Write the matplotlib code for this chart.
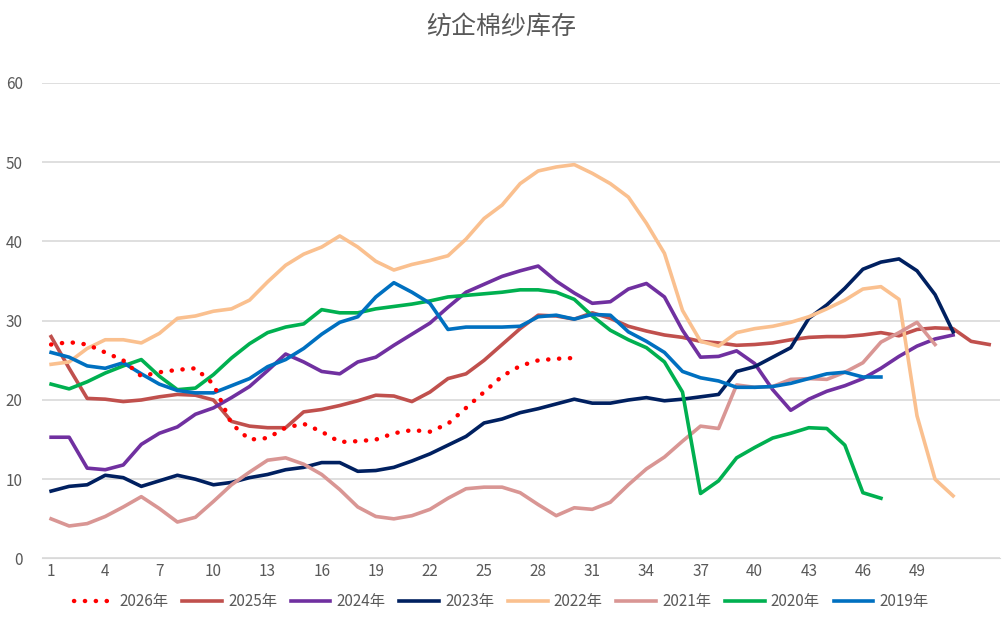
import matplotlib
matplotlib.use("Agg")
import matplotlib.pyplot as plt

plt.rcParams['font.family'] = ['Noto Sans CJK SC', 'DejaVu Sans']

y2026 = [27,27.3,27,26,25,23,23.5,23.8,24,22,17,15,15.2,16.5,17,16,14.7,14.8,15,15.8,16.2,16,17,19,21,23,24.3,25,25.2,25.3]
y2025 = [28,24,20.2,20.1,19.8,20,20.4,20.7,20.6,20,17.3,16.7,16.5,16.5,18.5,18.8,19.3,19.9,20.6,20.5,19.8,21,22.7,23.3,25,27,29,30.7,30.6,30.2,31,30.3,29.3,28.7,28.2,27.9,27.4,27.2,26.9,27,27.2,27.6,27.9,28,28,28.2,28.5,28.1,28.9,29.1,29,27.4,27.0]
y2024 = [15.3,15.3,11.4,11.2,11.8,14.4,15.8,16.6,18.2,19,20.3,21.7,23.7,25.8,24.8,23.6,23.3,24.8,25.4,26.9,28.3,29.7,31.7,33.6,34.6,35.6,36.3,36.9,35,33.5,32.2,32.4,34,34.7,33,28.8,25.4,25.5,26.2,24.6,21.3,18.7,20.1,21.1,21.8,22.7,24,25.5,26.8,27.7,28.2]
y2023 = [8.5,9.1,9.3,10.5,10.2,9.1,9.8,10.5,10,9.3,9.6,10.2,10.6,11.2,11.5,12.1,12.1,11,11.1,11.5,12.3,13.2,14.3,15.4,17.1,17.6,18.4,18.9,19.5,20.1,19.6,19.6,20,20.3,19.9,20.1,20.4,20.7,23.6,24.2,25.4,26.6,30.3,32,34.1,36.5,37.4,37.8,36.3,33.3,28.6]
y2022 = [24.5,24.8,26.5,27.6,27.6,27.2,28.4,30.3,30.6,31.2,31.5,32.6,34.9,37,38.4,39.3,40.7,39.3,37.5,36.4,37.1,37.6,38.2,40.3,42.9,44.6,47.3,48.9,49.4,49.7,48.6,47.3,45.6,42.3,38.5,31.3,27.4,26.8,28.5,29,29.3,29.8,30.5,31.5,32.6,34,34.3,32.7,18,10,7.9]
y2021 = [5,4.1,4.4,5.3,6.5,7.8,6.3,4.6,5.2,7.2,9.3,10.9,12.4,12.7,11.9,10.6,8.7,6.5,5.3,5,5.4,6.2,7.6,8.8,9,9,8.3,6.8,5.4,6.4,6.2,7.1,9.3,11.3,12.8,14.8,16.7,16.4,21.9,21.6,21.7,22.6,22.7,22.6,23.5,24.7,27.3,28.5,29.8,27]
y2020 = [22,21.4,22.3,23.4,24.3,25.1,23,21.3,21.5,23.2,25.3,27.1,28.5,29.2,29.6,31.4,31,31,31.5,31.8,32.1,32.5,33,33.2,33.4,33.6,33.9,33.9,33.6,32.7,30.6,28.8,27.6,26.6,24.8,21,8.2,9.8,12.7,14,15.2,15.8,16.5,16.4,14.3,8.3,7.6]
y2019 = [26,25.4,24.3,24,24.7,23.3,22,21.2,20.9,20.9,21.8,22.7,24.2,25.1,26.5,28.3,29.8,30.5,33,34.8,33.6,32.2,28.9,29.2,29.2,29.2,29.3,30.5,30.7,30.2,30.8,30.7,28.6,27.4,26,23.6,22.8,22.4,21.6,21.6,21.7,22.1,22.7,23.3,23.5,22.9,22.9]

series = [
    ("2026年", y2026, "#FF0000", ":"),
    ("2025年", y2025, "#C0504D", "-"),
    ("2024年", y2024, "#7030A0", "-"),
    ("2023年", y2023, "#002060", "-"),
    ("2022年", y2022, "#FAC08F", "-"),
    ("2021年", y2021, "#D99694", "-"),
    ("2020年", y2020, "#00B050", "-"),
    ("2019年", y2019, "#0070C0", "-"),
]
xticks = list(range(1, 50, 3))

fig = plt.figure(figsize=(10.02, 6.24), dpi=100)
ax = fig.add_axes([0.042, 0.105, 0.956, 0.762])
for name, ys, c, ls in series:
    x = list(range(1, len(ys) + 1))
    if ls == ":":
        ax.plot(x, ys, color=c, lw=3.2, ls=(0, (0.05, 2.4)), dash_capstyle='round', label=name, zorder=5)
    else:
        ax.plot(x, ys, color=c, lw=2.6, label=name)
ax.set_xlim(0.5, 53.6)
ax.set_ylim(0, 60)
ax.set_yticks(range(0, 61, 10))
ax.set_xticks(xticks)
ax.grid(axis='y', color='#D9D9D9', lw=1.2)
ax.set_axisbelow(True)
for s in ['top', 'right', 'left']:
    ax.spines[s].set_visible(False)
ax.spines['bottom'].set_color('#D9D9D9')
ax.tick_params(length=0, colors='#595959', labelsize=11)
ax.tick_params(axis='y', pad=14)
fig.suptitle("纺企棉纱库存", y=0.978, fontsize=18, color='#595959')
fig.legend(loc='lower center', ncol=8, frameon=False, bbox_to_anchor=(0.5, 0.0),
           fontsize=11, labelcolor='#595959', handlelength=2.6, columnspacing=0.9, handletextpad=0.4)
fig.savefig("out.png", dpi=100)
